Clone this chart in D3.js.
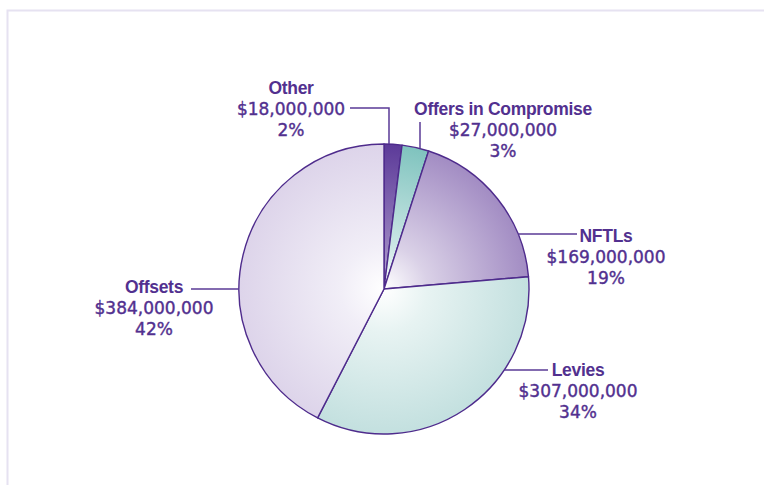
<!DOCTYPE html>
<html>
<head>
<meta charset="utf-8">
<script src="https://cdn.jsdelivr.net/npm/d3@7"></script>
<style>
  body { margin: 0; background: #fff; }
  svg { display: block; }
</style>
</head>
<body>
<div id="chart"></div>
<script>
// Data
const categories = ["Other", "Offers in Compromise", "NFTLs", "Levies", "Offsets"];
const amounts = [18000000, 27000000, 169000000, 307000000, 384000000];
const sliceColors = ["#5c3a99", "#7fc3be", "#a28cc3", "#c3e0df", "#ddd4ea"];

const width = 764;
const height = 485;
const cx = 384, cy = 289, radius = 145;
const textColor = "#52308f";

// Label placement (layout only)
const labelLayout = [
  { x: 291, y: 94,  leader: "otherElbow", lx: 350, ly: 108, ex: 389 },
  { x: 503, y: 115, leader: "down", lx: 420, ly: 122 },
  { x: 606, y: 242, leader: "right", lx: 577, ly: 234 },
  { x: 578, y: 376, leader: "right", lx: 548, ly: 370 },
  { x: 154, y: 293, leader: "left", lx: 191, ly: 289 }
];

const svg = d3.select("#chart")
  .append("svg")
  .attr("width", width)
  .attr("height", height);

// Light frame on top and left
svg.append("path")
  .attr("d", `M7.5,${height} V10.5 H${width}`)
  .attr("fill", "none")
  .attr("stroke", "#e6e2f1")
  .attr("stroke-width", 2);

// Radial gradients, lighter at the pie centre (pie group coordinates)
const defs = svg.append("defs");
sliceColors.forEach((c, i) => {
  const g = defs.append("radialGradient")
    .attr("id", "grad" + i)
    .attr("gradientUnits", "userSpaceOnUse")
    .attr("cx", 0).attr("cy", 0).attr("r", radius);
  const inner = i === 0 ? d3.interpolateRgb("#fff", c)(0.4) : "#ffffff";
  g.append("stop").attr("offset", "0%").attr("stop-color", inner);
  g.append("stop").attr("offset", "30%").attr("stop-color", d3.interpolateRgb(inner, c)(0.4));
  g.append("stop").attr("offset", "100%").attr("stop-color", c);
});

const pie = d3.pie().sort(null).value(d => d);
const arc = d3.arc().innerRadius(0).outerRadius(radius);
const total = d3.sum(amounts);

const pieG = svg.append("g").attr("transform", `translate(${cx},${cy})`);
pieG.selectAll("path")
  .data(pie(amounts))
  .enter()
  .append("path")
  .attr("d", arc)
  .attr("fill", (d, i) => `url(#grad${i})`)
  .attr("stroke", "#4e2b8c")
  .attr("stroke-width", 1.4)
  .attr("stroke-linejoin", "round");

// Leader lines meet the circle edge
const edgeX = (y, side) => cx + side * Math.sqrt(radius * radius - (y - cy) * (y - cy));
const edgeY = x => cy - Math.sqrt(radius * radius - (x - cx) * (x - cx));

const leaders = svg.append("g")
  .attr("fill", "none")
  .attr("stroke", "#5a3a96")
  .attr("stroke-width", 1.5);

labelLayout.forEach(l => {
  let d;
  if (l.leader === "otherElbow") {
    d = `M${l.lx},${l.ly} H${l.ex} V${edgeY(l.ex)}`;
  } else if (l.leader === "down") {
    d = `M${l.lx},${l.ly} V${edgeY(l.lx)}`;
  } else if (l.leader === "right") {
    d = `M${l.lx},${l.ly} H${edgeX(l.ly, 1)}`;
  } else {
    d = `M${l.lx},${l.ly} H${edgeX(l.ly, -1)}`;
  }
  leaders.append("path").attr("d", d);
});

// Labels
const money = d3.format("$,");
const pct = v => Math.round(v / total * 100) + "%";

const labels = svg.append("g")
  .attr("fill", textColor)
  .attr("text-anchor", "middle");

categories.forEach((name, i) => {
  const l = labelLayout[i];
  const t = labels.append("text").attr("x", l.x).attr("y", l.y);
  t.append("tspan")
    .attr("x", l.x)
    .attr("font-family", "'Liberation Sans', Arial, sans-serif")
    .attr("font-weight", "bold")
    .attr("font-size", 17.5)
    .attr("letter-spacing", -0.3)
    .text(name);
  t.append("tspan")
    .attr("x", l.x)
    .attr("dy", 21)
    .attr("font-family", "'DejaVu Sans', sans-serif")
    .attr("font-size", 17)
    .attr("stroke", textColor)
    .attr("stroke-width", 0.4)
    .text(money(amounts[i]));
  t.append("tspan")
    .attr("x", l.x)
    .attr("dy", 21)
    .attr("font-family", "'DejaVu Sans', sans-serif")
    .attr("font-size", 17)
    .attr("stroke", textColor)
    .attr("stroke-width", 0.4)
    .text(pct(amounts[i]));
});
</script>
</body>
</html>
